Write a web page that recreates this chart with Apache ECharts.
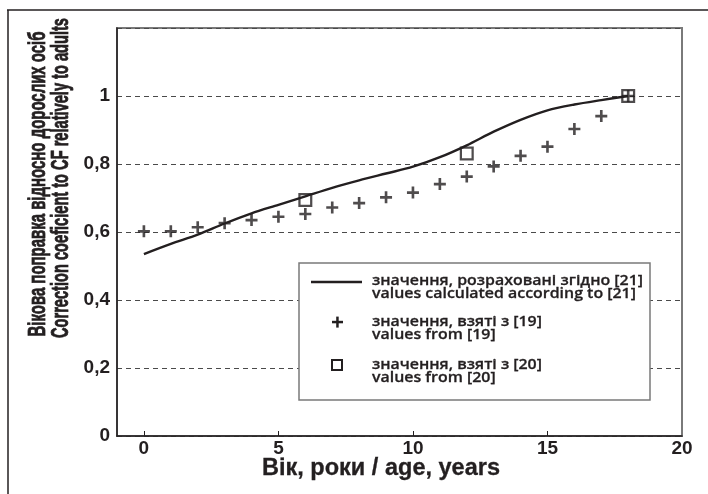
<!DOCTYPE html>
<html>
<head>
<meta charset="utf-8">
<script src="https://cdn.jsdelivr.net/npm/echarts@6/dist/echarts.min.js"></script>
<style>
  html, body { margin: 0; padding: 0; background: #fff; }
  #main { width: 708px; height: 494px; }
</style>
</head>
<body>
<div id="main"></div>
<script>
// вік, роки
var ages = [0, 1, 2, 3, 4, 5, 6, 7, 8, 9, 10, 11, 12, 13, 14, 15, 16, 17, 18];
// розраховані згідно [21]
var calcValues = [0.535, 0.565, 0.592, 0.625, 0.655, 0.68, 0.705, 0.73, 0.752, 0.772, 0.792,
                  0.82, 0.855, 0.895, 0.93, 0.958, 0.975, 0.988, 1.0];
// взяті з [19]
var ref19Values = [0.602, 0.602, 0.614, 0.626, 0.635, 0.645, 0.653, 0.672, 0.685, 0.702, 0.716,
                   0.741, 0.763, 0.793, 0.824, 0.851, 0.903, 0.941, 1.0];
// взяті з [20]
var ref20Ages = [6, 12, 18];
var ref20Values = [0.694, 0.831, 1.0];

var xTicks = [0, 5, 10, 15, 20];

var chart = echarts.init(document.getElementById('main'));

var axisFont = '"Liberation Sans", Arial, sans-serif';
var legendFont = '"Open Sans", "DejaVu Sans", sans-serif';
var ink = '#231f20';

function pairs(xs, ys) {
    return xs.map(function (x, i) { return [x, ys[i]]; });
}

// стиснути текст до потрібної ширини
var measureCtx = document.createElement('canvas').getContext('2d');
function fit(text, weight, size, family, width) {
    measureCtx.font = weight + ' ' + size + 'px ' + family;
    return width / measureCtx.measureText(text).width;
}

function squeezed(text, size, width, x, y, rot, thick) {
    return {
        type: 'text', x: x, y: y, rotation: rot || 0,
        scaleX: fit(text, 'bold', size, axisFont, width),
        style: {
            text: text, fontSize: size, fontWeight: 'bold', fontFamily: axisFont,
            fill: ink, stroke: ink, lineWidth: thick || 0,
            align: 'center', verticalAlign: 'middle'
        }
    };
}

var legendLine1 = 'значення, розраховані згідно [21]';
var legendScale = fit(legendLine1, '600', 15, legendFont, 271);
function legendText(text, x, y) {
    return {
        type: 'text', x: x, y: y, scaleX: legendScale, z: 101,
        style: {
            text: text, fontSize: 15, fontWeight: 600, fontFamily: legendFont,
            fill: ink, stroke: ink, lineWidth: 0.3, verticalAlign: 'middle'
        }
    };
}

var plusPath = 'path://M3.9,0 H6.1 V3.9 H10 V6.1 H6.1 V10 H3.9 V6.1 H0 V3.9 H3.9 Z';
var squarePath = 'path://M0,0 H10 V10 H0 Z M1.6,1.6 V8.4 H8.4 V1.6 Z';

var yTitle1 = 'Вікова поправка відносно дорослих осіб';
var yTitle2 = 'Correction coeficient to CF relatively to adults';
var xTitle = 'Вік, роки / age, years';

option = {
    animation: false,
    grid: {
        left: 117, right: 26, top: 28, bottom: 58,
        show: true,
        borderColor: '#7a7a7a',
        borderWidth: 2,
        backgroundColor: 'transparent'
    },
    xAxis: {
        type: 'value',
        min: -1,
        max: 20,
        axisLine: { onZero: false, lineStyle: { color: ink, width: 1.5 } },
        axisTick: { inside: true, length: 5, customValues: [0, 5, 10, 15], lineStyle: { color: ink } },
        axisLabel: {
            customValues: xTicks,
            margin: 3,
            fontFamily: axisFont, fontWeight: 'bold', fontSize: 19, color: ink
        },
        splitLine: { show: false }
    },
    yAxis: {
        type: 'value',
        min: 0,
        max: 1.2,
        interval: 0.2,
        axisLine: { show: true, onZero: false, lineStyle: { color: ink, width: 1.5 } },
        axisTick: { show: false },
        axisLabel: {
            margin: 7,
            fontFamily: axisFont, fontWeight: 'bold', fontSize: 19, color: ink,
            formatter: function (v) {
                if (v > 1.1) return '';
                return (Math.round(v * 10) / 10).toString().replace('.', ',');
            }
        },
        splitLine: {
            show: true,
            lineStyle: { type: [5, 4], color: '#4a4a4a', width: 1 }
        }
    },
    series: [
        {
            name: 'calc',
            type: 'line',
            data: pairs(ages, calcValues),
            smooth: 0.3,
            symbol: 'none',
            lineStyle: { color: ink, width: 2.4 },
            z: 3
        },
        {
            name: 'ref20',
            type: 'scatter',
            data: pairs(ref20Ages, ref20Values),
            symbol: squarePath,
            symbolSize: 14,
            itemStyle: { color: ink },
            z: 4
        },
        {
            name: 'ref19',
            type: 'scatter',
            data: pairs(ages, ref19Values),
            symbol: plusPath,
            symbolSize: 12,
            itemStyle: { color: ink },
            z: 5
        }
    ],
    graphic: [
        // зовнішня рамка (верх і ліво)
        { type: 'line', shape: { x1: 7, y1: 10, x2: 708, y2: 10 }, style: { stroke: ink, lineWidth: 1.5 } },
        { type: 'line', shape: { x1: 8, y1: 10, x2: 8, y2: 494 }, style: { stroke: ink, lineWidth: 1.5 } },
        // назви осей
        squeezed(yTitle1, 23, 305, 39, 184, Math.PI / 2, 0.8),
        squeezed(yTitle2, 23, 320, 62, 178, Math.PI / 2, 0.8),
        squeezed(xTitle, 23, 238, 381, 469, 0, 0.3),
        // легенда
        { type: 'rect', z: 100, shape: { x: 299, y: 263, width: 351, height: 137 },
          style: { fill: '#fff', stroke: '#7a7a7a', lineWidth: 1.5 } },
        { type: 'line', z: 101, shape: { x1: 311, y1: 282, x2: 362, y2: 282 },
          style: { stroke: ink, lineWidth: 2.4 } },
        legendText(legendLine1, 372, 281),
        legendText('values calculated according to [21]', 372, 294),
        { type: 'rect', z: 101, shape: { x: 332, y: 320.8, width: 11, height: 2.5 }, style: { fill: ink } },
        { type: 'rect', z: 101, shape: { x: 336.2, y: 316.6, width: 2.5, height: 11 }, style: { fill: ink } },
        legendText('значення, взяті з [19]', 372, 322),
        legendText('values from [19]', 372, 335),
        { type: 'rect', z: 101, shape: { x: 332, y: 360, width: 10, height: 10 },
          style: { fill: 'none', stroke: ink, lineWidth: 2 } },
        legendText('значення, взяті з [20]', 372, 365),
        legendText('values from [20]', 372, 378)
    ]
};

chart.setOption(option);
</script>
</body>
</html>
